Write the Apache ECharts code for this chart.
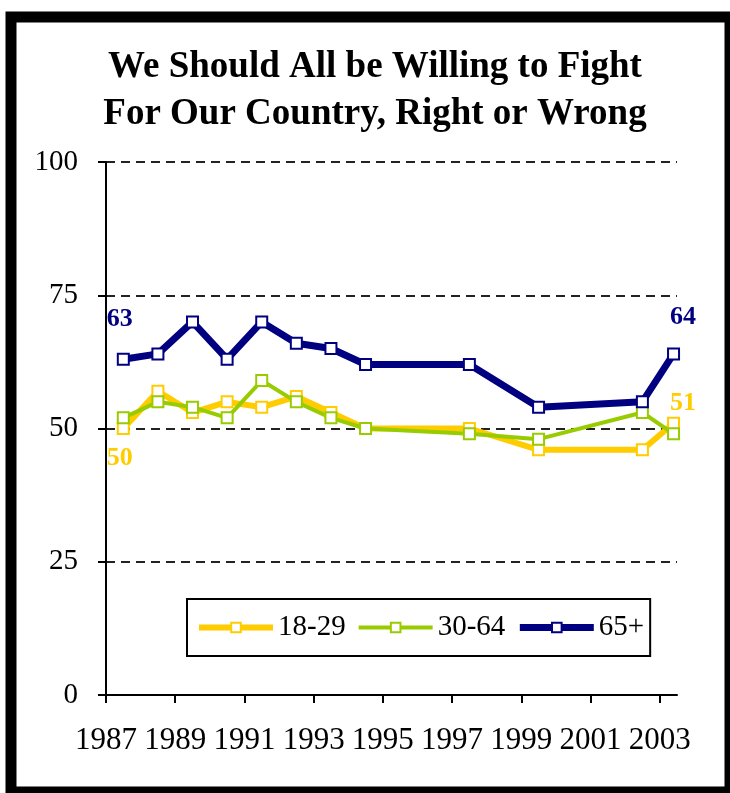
<!DOCTYPE html>
<html>
<head>
<meta charset="utf-8">
<script src="https://cdn.jsdelivr.net/npm/echarts@6/dist/echarts.min.js"></script>
<style>
    html, body { margin: 0; padding: 0; background: #ffffff; }
    #chart { width: 730px; height: 793px; }
</style>
</head>
<body>
<div id="chart"></div>
<script>
// survey dates (decimal years) and % agreeing, by age group
var surveyYears = [1987.5, 1988.5, 1989.5, 1990.5, 1991.5, 1992.5, 1993.5, 1994.5, 1997.5, 1999.5, 2002.5, 2003.4];
var age18to29 = [50, 57, 53, 55, 54, 56, 53, 50, 50, 46, 46, 51];
var age30to64 = [52, 55, 54, 52, 59, 55, 52, 50, 49, 48, 53, 49];
var age65plus = [63, 64, 70, 63, 70, 66, 65, 62, 62, 54, 55, 64];
var seriesNames = ['18-29', '30-64', '65+'];
var xTickYears = [1987, 1989, 1991, 1993, 1995, 1997, 1999, 2001, 2003];
var yTicks = [0, 25, 50, 75, 100];

var xStart = 1987;
var serif = "'Liberation Serif', 'Times New Roman', serif";
var colors = ['#FFCC00', '#99CC00', '#000080'];
var widths = [6, 4, 7];

function buildData(values, color, firstPos, lastPos) {
    return values.map(function (v, i) {
        var item = { value: [surveyYears[i] - xStart, v] };
        var pos = null;
        if (i === 0) pos = firstPos;
        if (i === values.length - 1) pos = lastPos;
        if (pos) {
            item.label = {
                show: true,
                position: pos,
                align: 'center',
                verticalAlign: 'middle',
                color: color,
                fontFamily: serif,
                fontWeight: 'bold',
                fontSize: 26,
                formatter: '{@[1]}'
            };
        }
        return item;
    });
}

function makeSeries(idx, values, firstPos, lastPos) {
    return {
        name: seriesNames[idx],
        type: 'line',
        data: buildData(values, colors[idx], firstPos, lastPos),
        symbol: 'rect',
        symbolSize: 11,
        showAllSymbol: true,
        lineStyle: { color: colors[idx], width: widths[idx] },
        itemStyle: { color: '#ffffff', borderColor: colors[idx], borderWidth: 2 },
        emphasis: { disabled: true }
    };
}

var chart = echarts.init(document.getElementById('chart'));

var option = {
    animation: false,
    backgroundColor: '#ffffff',
    title: {
        text: 'We Should All be Willing to Fight\nFor Our Country, Right or Wrong',
        left: 370,
        top: 39,
        textAlign: 'center',
        textStyle: {
            fontFamily: serif,
            fontWeight: 'bold',
            fontSize: 37,
            lineHeight: 47,
            color: '#000000'
        }
    },
    graphic: [{
        type: 'rect',
        shape: { x: 11, y: 17, width: 719, height: 775 },
        style: { fill: 'none', stroke: '#000000', lineWidth: 11 },
        silent: true
    }],
    legend: {
        data: seriesNames.map(function (n, i) {
            return { name: n, lineStyle: { color: colors[i], width: widths[i] } };
        }),
        left: 187,
        top: 599,
        padding: [14, 6, 14, 9],
        itemGap: 11,
        itemWidth: 74,
        itemHeight: 12,
        borderColor: '#000000',
        borderWidth: 2,
        textStyle: { fontFamily: serif, fontSize: 29, color: '#000000' }
    },
    grid: { left: 106, right: 53, top: 162, bottom: 98 },
    xAxis: {
        type: 'value',
        min: 0,
        max: 16.5,
        interval: 2,
        axisLine: { show: true, lineStyle: { color: '#000000', width: 2 } },
        axisTick: {
            show: true, length: 8,
            lineStyle: { color: '#000000', width: 2 },
            customValues: xTickYears.map(function (y) { return y - xStart; })
        },
        axisLabel: {
            margin: 30,
            fontFamily: serif,
            fontSize: 31,
            color: '#000000',
            customValues: xTickYears.map(function (y) { return y - xStart; }),
            formatter: function (v) { return String(Math.round(v + xStart)); }
        },
        splitLine: { show: false }
    },
    yAxis: {
        type: 'value',
        min: 0,
        max: 100,
        interval: 25,
        axisLine: { show: true, lineStyle: { color: '#000000', width: 2 } },
        axisTick: { show: true, length: 8, lineStyle: { color: '#000000', width: 2 } },
        axisLabel: {
            margin: 28,
            fontFamily: serif,
            fontSize: 29,
            color: '#000000',
            customValues: yTicks
        },
        splitLine: {
            show: true,
            lineStyle: { color: '#222222', width: 2, type: [9, 6] }
        }
    },
    series: [
        makeSeries(0, age18to29, [3, 36], [16, -13]),
        makeSeries(1, age30to64, null, null),
        makeSeries(2, age65plus, [3, -33], [16, -30])
    ]
};

chart.setOption(option);
</script>
</body>
</html>
